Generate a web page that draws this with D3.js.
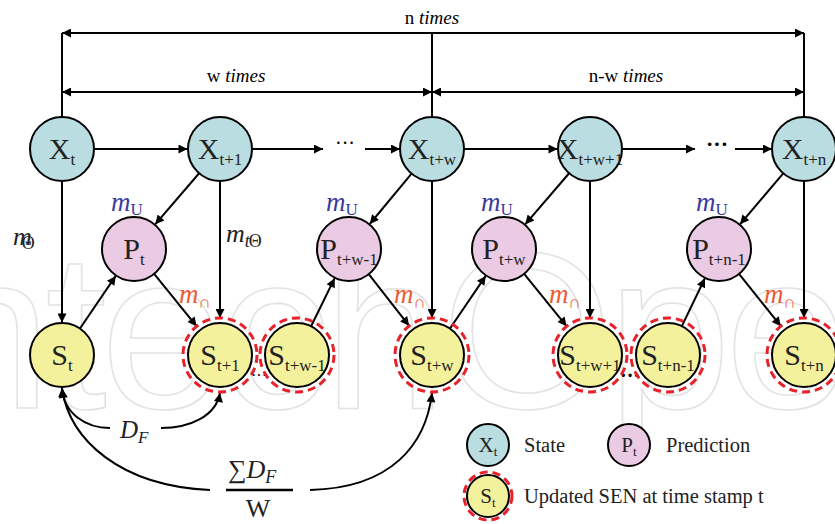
<!DOCTYPE html>
<html><head><meta charset="utf-8">
<script src="https://cdn.jsdelivr.net/npm/d3@7"></script>
<style>body{margin:0;background:#fff}svg{display:block}</style>
</head><body>
<script>
// ---- data ----
const nodeIds   = ["Xt","Xt1","Xtw","Xtw1","Xtn","Pt","Ptw_1","Ptw","Ptn_1","St","St1","Stw_1","Stw","Stw1","Stn_1","Stn"];
const nodeTypes = ["X","X","X","X","X","P","P","P","P","S","S","S","S","S","S","S"];
const nodeMain  = ["X","X","X","X","X","P","P","P","P","S","S","S","S","S","S","S"];
const nodeSubs  = ["t","t+1","t+w","t+w+1","t+n","t","t+w-1","t+w","t+n-1","t","t+1","t+w-1","t+w","t+w+1","t+n-1","t+n"];
const nodeRing  = [0,0,0,0,0,0,0,0,0,0,1,1,1,1,1,1];
const edgeFrom  = ["Xt","Xt","St","Xt1","Xt1","Pt","Stw_1","Xtw","Xtw","Xtw","Ptw_1","Stw","Xtw1","Xtw1","Ptw","Stn_1","Xtn","Xtn","Ptn_1"];
const edgeTo    = ["Xt1","St","Pt","Pt","St1","St1","Ptw_1","Ptw_1","Stw","Xtw1","Stw","Ptw","Ptw","Stw1","Stw1","Ptn_1","Ptn_1","Stn","Stn"];
const spanLabels = ["n","w","n-w"];
const legendLabels = ["State","Prediction","Updated SEN at time stamp t"];

// ---- layout (positions kept separate from data) ----
const colX = {Xt:62,Xt1:220,Xtw:432,Xtw1:590,Xtn:804,Pt:134,Ptw_1:349,Ptw:504,Ptn_1:719,
              St:62,St1:220,Stw_1:297,Stw:432,Stw1:590,Stn_1:668,Stn:804};
const rowY = {X:149,P:249,S:355};
const R = 32, RING = 37;
const fills = {X:"#b9dde0",P:"#ebcbe3",S:"#f4f19c"};
const serif = "Liberation Serif, Times New Roman, serif";

const svg = d3.select("body").append("svg").attr("width",835).attr("height",524);

// watermark
svg.append("text").attr("x",-128).attr("y",408)
  .attr("font-family","Liberation Sans, Arial, sans-serif").attr("font-size",222)
  .attr("fill","none").attr("stroke","#e3e3e3").attr("stroke-width",1.6)
  .attr("letter-spacing",-6).text("IntechOpen");

const defs = svg.append("defs");
defs.append("marker").attr("id","ah").attr("viewBox","0 0 10 10")
  .attr("refX",10).attr("refY",5).attr("markerWidth",11).attr("markerHeight",9)
  .attr("markerUnits","userSpaceOnUse").attr("orient","auto-start-reverse")
  .append("path").attr("d","M0,0L10,5L0,10z").attr("fill","#000");

const nodes = nodeIds.map((id,i)=>({id,type:nodeTypes[i],main:nodeMain[i],sub:nodeSubs[i],ring:nodeRing[i],
  x:colX[id],y:rowY[nodeTypes[i]]}));
const byId = Object.fromEntries(nodes.map(n=>[n.id,n]));

const line = (x1,y1,x2,y2,a1,a2)=>{
  const l = svg.append("line").attr("x1",x1).attr("y1",y1).attr("x2",x2).attr("y2",y2)
   .attr("stroke","#000").attr("stroke-width",2);
  if(a1) l.attr("marker-start","url(#ah)");
  if(a2) l.attr("marker-end","url(#ah)");
  return l;
};

// spans
const yN=33, yW=92;
line(432,yN,62,yN,false,true); line(432,yN,804,yN,false,true);
line(62,yN,62,rowY.X-R); line(804,yN,804,rowY.X-R); line(432,yN,432,rowY.X-R);
line(62,yW,432,yW,true,true); line(432,yW,804,yW,true,true);
const spanText=(x,y,lab)=>{const t=svg.append("text").attr("x",x).attr("y",y).attr("text-anchor","middle")
  .attr("font-family",serif).attr("font-size",19);
  t.append("tspan").text(lab+" "); t.append("tspan").attr("font-style","italic").text("times");};
spanText(432,24,spanLabels[0]); spanText(236,82,spanLabels[1]); spanText(626,82,spanLabels[2]);

// state chain with ellipsis
line(colX.Xt1+R,rowY.X,323,rowY.X,false,true);
line(365,rowY.X,colX.Xtw-R,rowY.X,false,true);
line(colX.Xtw1+R,rowY.X,695,rowY.X,false,true);
line(735,rowY.X,colX.Xtn-R,rowY.X,false,true);
svg.append("text").attr("x",345).attr("y",150).attr("text-anchor","middle").attr("font-family",serif).attr("font-size",20).text("···");
svg.append("text").attr("x",717).attr("y",151).attr("text-anchor","middle").attr("font-family",serif).attr("font-size",22).attr("font-weight","bold").text("···");

// edges
edgeFrom.forEach((f,i)=>{
  const a=byId[f], b=byId[edgeTo[i]];
  const dx=b.x-a.x, dy=b.y-a.y, d=Math.hypot(dx,dy), ux=dx/d, uy=dy/d;
  const rb = b.ring? RING : R+0.5;
  line(a.x+ux*R,a.y+uy*R,b.x-ux*rb,b.y-uy*rb,false,true);
});

// curves
const curve=(d,arrow)=>svg.append("path").attr("d",d).attr("fill","none").attr("stroke","#000")
  .attr("stroke-width",2).attr("marker-end",arrow?"url(#ah)":null);
curve("M110,428 C86,428 64,414 62,388",true);
curve("M161,428 C190,428 216,416 220,393",true);
curve("M210,490 C120,486 70,440 62,389",true);
curve("M310,490 C392,488 426,444 432,393",true);

// dots between S nodes
svg.append("text").attr("x",259).attr("y",381).attr("text-anchor","middle").attr("font-family",serif).attr("font-size",16).text("···");
svg.append("text").attr("x",630).attr("y",382).attr("text-anchor","middle").attr("font-family",serif).attr("font-size",20).attr("font-weight","bold").text("···");

// node drawing
function drawNode(g,n,r,ringR,fs,sfs,base){
  if(n.ring) g.append("circle").attr("cx",n.x).attr("cy",n.y).attr("r",ringR).attr("fill","none")
    .attr("stroke","#e8222a").attr("stroke-width",3).attr("stroke-dasharray","8,5");
  g.append("circle").attr("cx",n.x).attr("cy",n.y).attr("r",r).attr("fill",fills[n.type])
    .attr("stroke","#000").attr("stroke-width",2);
  const t=g.append("text").attr("x",n.x).attr("y",n.y+base).attr("text-anchor","middle")
    .attr("font-family",serif).attr("fill","#222");
  t.append("tspan").attr("font-size",fs).text(n.main);
  t.append("tspan").attr("font-size",sfs).attr("dy",base*0.55).text(n.sub);
}
const ng=svg.append("g");
nodes.forEach(n=>drawNode(ng,n,R,RING,30,17,10));

// edge labels
const mLab=(x,y,sub,color,dySub)=>{
  const t=svg.append("text").attr("x",x).attr("y",y).attr("font-family",serif).attr("fill",color);
  t.append("tspan").attr("font-style","italic").attr("font-size",27).text("m");
  t.append("tspan").attr("font-size",17).attr("dy",dySub).text(sub);
  return t;
};
nodes.filter(n=>n.type==="P").forEach(n=>{
  mLab(n.x-23,n.y-38,"U","#3b3a9e",4);
  mLab(n.x+45,n.y+54,"∩","#ec5a34",5);
});
// m_theta labels
{const t=svg.append("text").attr("x",13).attr("y",245).attr("font-family",serif).attr("fill","#222");
 t.append("tspan").attr("font-style","italic").attr("font-size",26).text("m");
 t.append("tspan").attr("font-size",18).attr("dx",-10).attr("dy",4).text("Θ");}
{const t=svg.append("text").attr("x",226).attr("y",242).attr("font-family",serif).attr("fill","#222");
 t.append("tspan").attr("font-style","italic").attr("font-size",26).text("m");
 t.append("tspan").attr("font-style","italic").attr("font-size",18).attr("dy",5).text("t");
 t.append("tspan").attr("font-size",18).attr("dx",-1).text("Θ");}

// D_F labels
{const t=svg.append("text").attr("x",120).attr("y",438).attr("font-family",serif).attr("fill","#222");
 t.append("tspan").attr("font-style","italic").attr("font-size",25).text("D");
 t.append("tspan").attr("font-style","italic").attr("font-size",17).attr("dy",5).text("F");}
{const t=svg.append("text").attr("x",228).attr("y",478).attr("font-family",serif).attr("fill","#222");
 t.append("tspan").attr("font-size",26).text("∑");
 t.append("tspan").attr("font-style","italic").attr("font-size",26).text("D");
 t.append("tspan").attr("font-style","italic").attr("font-size",18).attr("dy",5).text("F");}
line(226,490,293,490).attr("stroke-width",2.5);
svg.append("text").attr("x",258).attr("y",517).attr("text-anchor","middle").attr("font-family",serif).attr("font-size",26).attr("fill","#222").text("W");

// legend
const lg=svg.append("g");
[{type:"X",main:"X",sub:"t",ring:0,x:488,y:445,lab:legendLabels[0],lx:524},
 {type:"P",main:"P",sub:"t",ring:0,x:629,y:445,lab:legendLabels[1],lx:666},
 {type:"S",main:"S",sub:"t",ring:1,x:488,y:496,lab:legendLabels[2],lx:524}].forEach(n=>{
  drawNode(lg,n,21,24,21,13,7);
  lg.append("text").attr("x",n.lx).attr("y",n.y+7).attr("font-family",serif).attr("font-size",20.5)
    .attr("fill","#222").text(n.lab);
});
</script>
</body></html>
